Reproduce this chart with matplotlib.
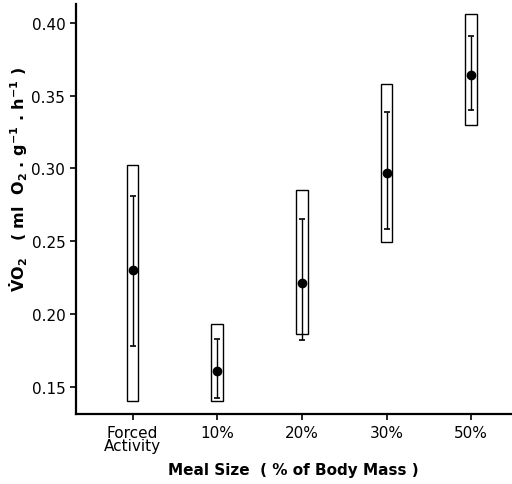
import numpy as np
import matplotlib
matplotlib.use("Agg")
import matplotlib.pyplot as plt
from matplotlib.patches import Rectangle

# Values (VO2, ml O2 g^-1 h^-1)
categories = ["Forced\nActivity", "10%", "20%", "30%", "50%"]
mean_vals = [0.230, 0.161, 0.221, 0.297, 0.364]
sd_low = [0.178, 0.142, 0.182, 0.258, 0.340]
sd_high = [0.281, 0.183, 0.265, 0.339, 0.391]
range_low = [0.140, 0.140, 0.186, 0.249, 0.330]
range_high = [0.302, 0.193, 0.285, 0.358, 0.406]

plt.rcParams["font.family"] = ["DejaVu Sans"]
plt.rcParams["mathtext.fontset"] = "dejavusans"
plt.rcParams["mathtext.default"] = "regular"

fig = plt.figure(figsize=(5.12, 4.85), dpi=100)
ax = fig.add_axes([0.148, 0.144, 0.85, 0.846])

x = np.arange(len(categories))
box_w = 0.14

# range boxes
for xi, lo, hi in zip(x, range_low, range_high):
    ax.add_patch(Rectangle((xi - box_w / 2, lo), box_w, hi - lo,
                           fill=False, edgecolor="black", lw=1.0))

# SD bars and means
mean = np.array(mean_vals)
yerr = [mean - np.array(sd_low), np.array(sd_high) - mean]
ax.errorbar(x, mean, yerr=yerr, fmt="o", color="black", ms=6,
            elinewidth=1.0, capsize=2.5, capthick=1.2)

ax.set_xlim(-0.67, 4.47)
ax.set_ylim(0.131, 0.413)
ax.set_yticks([0.15, 0.20, 0.25, 0.30, 0.35, 0.40])
ax.set_yticklabels(["0.15", "0.20", "0.25", "0.30", "0.35", "0.40"])
ax.set_xticks(x)
ax.set_xticklabels(categories, linespacing=0.85)

for s in ["top", "right"]:
    ax.spines[s].set_visible(False)
for s in ["left", "bottom"]:
    ax.spines[s].set_linewidth(1.6)
ax.tick_params(axis="both", direction="out", length=4, width=1.2,
               labelsize=11)
ax.tick_params(axis="x", pad=4)

ax.set_ylabel(r"$\dot{V}O_2$   ( ml  O$_2$ . g$^{-1}$ . h$^{-1}$ )",
              fontsize=11.5, fontweight="bold")
ax.yaxis.set_label_coords(-0.105, 0.575)
ax.set_xlabel("Meal Size  ( % of Body Mass )", fontsize=11,
              fontweight="bold", labelpad=6)

fig.savefig("out.png", dpi=100)
